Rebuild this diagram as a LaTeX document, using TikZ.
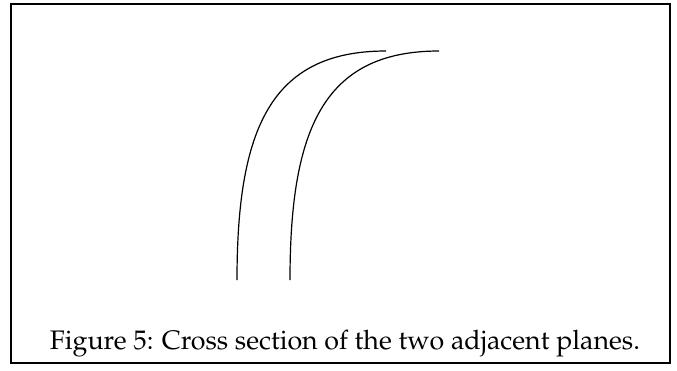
\documentclass[tikz,border=0pt]{standalone}
\usepackage[T1]{fontenc}
\usepackage{mathpazo}
\begin{document}
\begin{tikzpicture}[x=1pt,y=1pt,
  curve/.style={line width=1.2pt},
  frame/.style={line width=2pt},
  captiontext/.style={anchor=base,inner sep=0pt,font=\fontsize{26.8}{31}\selectfont}]
\useasboundingbox (0,0) rectangle (677,370);
\draw[frame] (11,366) rectangle (670,7);
\coordinate (a0) at (237,90);
\coordinate (a1) at (386,319);
\coordinate (b0) at (290,90);
\coordinate (b1) at (439,319);
\draw[curve] (a0) .. controls (237,240) and (270,319) .. (a1);
\draw[curve] (b0) .. controls (290,240) and (323,319) .. (b1);
\node[captiontext] (caption) at (345,21) {Figure 5: Cross section of the two adjacent planes.};
\end{tikzpicture}
\end{document}
